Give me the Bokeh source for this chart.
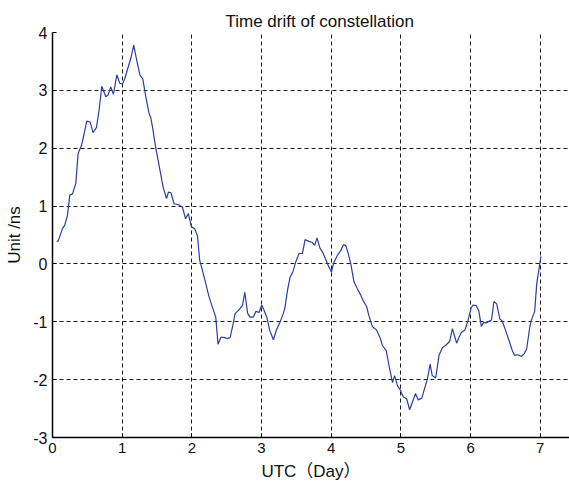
from bokeh.plotting import figure
from bokeh.models import FixedTicker, Range1d
from bokeh.embed import file_html
from bokeh.resources import INLINE

# Data (UTC day, time drift in ns)
days = [0.062, 0.08, 0.143, 0.176, 0.215, 0.248, 0.287, 0.334, 0.368, 0.416,
        0.454, 0.492, 0.54, 0.583, 0.631, 0.669, 0.707, 0.765, 0.798, 0.836,
        0.875, 0.923, 0.966, 1.004, 1.037, 1.085, 1.123, 1.166, 1.21, 1.257,
        1.296, 1.339, 1.386, 1.41, 1.435, 1.48, 1.53, 1.587, 1.636, 1.664,
        1.70, 1.745, 1.817, 1.865, 1.91, 1.95, 1.994, 2.04, 2.08, 2.113,
        2.152, 2.2, 2.247, 2.296, 2.343, 2.376, 2.415, 2.46, 2.51, 2.55,
        2.583, 2.62, 2.678, 2.726, 2.76, 2.80, 2.835, 2.88, 2.92, 2.965,
        3.003, 3.036, 3.075, 3.118, 3.17, 3.218, 3.265, 3.314, 3.337, 3.372,
        3.41, 3.452, 3.49, 3.538, 3.587, 3.625, 3.68, 3.73, 3.763, 3.796,
        3.84, 3.878, 3.92, 3.97, 4.003, 4.04, 4.09, 4.136, 4.175, 4.208,
        4.24, 4.28, 4.327, 4.375, 4.42, 4.46, 4.51, 4.54, 4.59, 4.65,
        4.70, 4.735, 4.79, 4.83, 4.88, 4.91, 4.95, 4.99, 5.036, 5.083,
        5.126, 5.165, 5.21, 5.25, 5.30, 5.346, 5.38, 5.42, 5.45, 5.50,
        5.52, 5.547, 5.595, 5.64, 5.70, 5.74, 5.80, 5.833, 5.87, 5.92,
        5.963, 6.01, 6.04, 6.08, 6.12, 6.155, 6.19, 6.23, 6.264, 6.30,
        6.336, 6.375, 6.42, 6.456, 6.50, 6.55, 6.60, 6.63, 6.68, 6.73,
        6.77, 6.805, 6.85, 6.87, 6.92, 6.95, 7.01]
drift_ns = [0.395, 0.39, 0.61, 0.67, 0.84, 1.19, 1.21, 1.39, 1.91, 2.05,
            2.25, 2.47, 2.45, 2.27, 2.36, 2.66, 3.07, 2.89, 2.92, 3.06,
            2.93, 3.27, 3.12, 3.11, 3.20, 3.40, 3.55, 3.78, 3.51, 3.26,
            3.20, 2.89, 2.60, 2.53, 2.37, 2.02, 1.70, 1.33, 1.13, 1.24,
            1.23, 1.04, 1.02, 0.98, 0.78, 0.87, 0.64, 0.61, 0.49, 0.06,
            -0.11, -0.34, -0.57, -0.75, -0.92, -1.39, -1.27, -1.27, -1.29, -1.27,
            -1.09, -0.86, -0.79, -0.72, -0.49, -0.85, -0.92, -0.92, -0.82, -0.84,
            -0.71, -0.80, -0.92, -1.15, -1.31, -1.13, -1.01, -0.85, -0.75, -0.46,
            -0.23, -0.13, 0.03, 0.18, 0.18, 0.42, 0.39, 0.37, 0.32, 0.45,
            0.27, 0.20, 0.08, -0.06, -0.14, 0.03, 0.15, 0.23, 0.33, 0.32,
            0.20, 0.01, -0.31, -0.43, -0.53, -0.64, -0.74, -0.89, -1.08, -1.14,
            -1.27, -1.41, -1.50, -1.76, -2.05, -1.93, -2.10, -2.18, -2.30, -2.33,
            -2.52, -2.39, -2.24, -2.35, -2.32, -2.13, -1.99, -1.73, -1.93, -1.97,
            -1.81, -1.58, -1.45, -1.41, -1.34, -1.12, -1.37, -1.27, -1.18, -1.14,
            -0.98, -0.75, -0.71, -0.72, -0.82, -1.08, -1.01, -1.02, -0.99, -0.97,
            -0.65, -0.69, -0.95, -0.99, -1.14, -1.32, -1.50, -1.58, -1.57, -1.60,
            -1.55, -1.47, -1.09, -0.98, -0.82, -0.34, 0.13]

x_ticks = [0, 1, 2, 3, 4, 5, 6, 7]
y_ticks = [-3, -2, -1, 0, 1, 2, 3, 4]
y_tick_labels = ["-3", "-2", "-1", "0", "1", "2", "3", "4"]

FONT = "Liberation Sans, Arial, Noto Sans CJK SC, sans-serif"

p = figure(width=569, height=484, output_backend="svg", toolbar_location=None,
           x_range=Range1d(0, 7.42), y_range=Range1d(-3, 4),
           min_border_left=52, min_border_right=0, min_border_top=32,
           min_border_bottom=47)

p.title.text = "Time drift of constellation"
p.title.align = "left"
p.title.offset = 173
p.title.text_font = FONT
p.title.text_font_size = "17px"
p.title.text_font_style = "normal"
p.title.text_color = "#111111"
p.title.standoff = 4

p.line(days, drift_ns, line_color="#2b3fa0", line_width=1.2)

p.xaxis.ticker = FixedTicker(ticks=x_ticks)
p.yaxis.ticker = FixedTicker(ticks=y_ticks)
p.yaxis.major_label_overrides = {t: s for t, s in zip(y_ticks, y_tick_labels)}
p.xaxis.axis_label = "UTC（Day）"
p.yaxis.axis_label = "Unit /ns"

for ax in (p.xaxis, p.yaxis):
    ax.axis_label_text_font = FONT
    ax.axis_label_text_font_style = "normal"
    ax.axis_label_text_font_size = "17px"
    ax.axis_label_text_color = "#111111"
    ax.major_label_text_font = FONT
    ax.major_label_text_color = "#111111"
    ax.axis_line_color = "black"
    ax.axis_line_width = 1.5
    ax.major_tick_in = 4
    ax.major_tick_out = 0
    ax.minor_tick_line_color = None
    ax.major_tick_line_color = "black"

p.xaxis.major_label_text_font_size = "15px"
p.yaxis.major_label_text_font_size = "16px"
p.xaxis.major_label_standoff = 5
p.yaxis.major_label_standoff = 5
p.xaxis.axis_label_standoff = 6
p.yaxis.axis_label_standoff = 6

for g in (p.xgrid, p.ygrid):
    g.grid_line_color = "black"
    g.grid_line_dash = "4 3"
    g.grid_line_width = 1
    g.grid_line_alpha = 0.9

p.outline_line_color = None
p.background_fill_color = "white"
p.border_fill_color = "white"

open("out.html", "w").write(file_html(p, INLINE))
